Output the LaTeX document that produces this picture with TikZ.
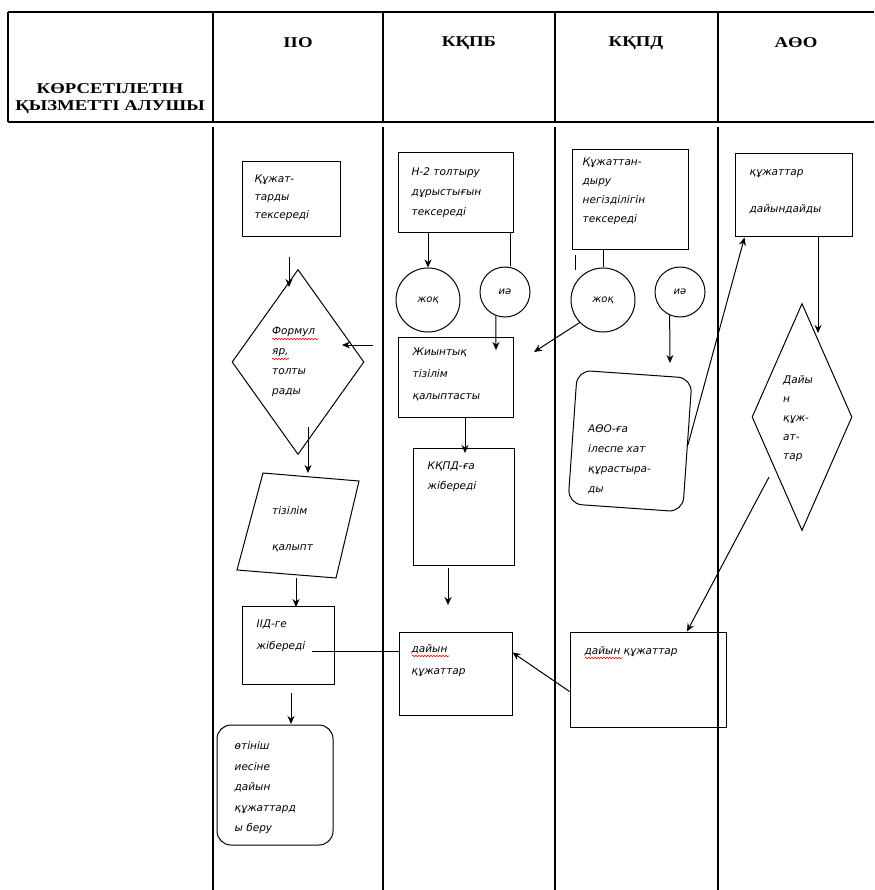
\documentclass[tikz,border=0pt]{standalone}
\usepackage{fontspec}
\setmainfont{Liberation Serif}
\newfontfamily\headfont{Liberation Serif}[FakeStretch=1.25]
\newfontfamily\bodyfont{DejaVu Sans}
\usetikzlibrary{positioning, shapes.geometric, arrows.meta, decorations.pathmorphing}

\begin{document}
\begin{tikzpicture}[x=1pt,y=-1pt,
                  head/.style={font=\headfont\bfseries\fontsize{15}{17}\selectfont,inner sep=0pt,align=center},
                  box/.style={rectangle,draw,line width=1pt,inner sep=0pt},
                  rbox/.style={box,rounded corners=14pt},
                  decision/.style={diamond,draw,line width=1pt,inner sep=0pt},
                  answer/.style={circle,draw,line width=1pt,inner sep=0pt,
                    font=\bodyfont\itshape\fontsize{10}{12}\selectfont},
                  txt/.style={font=\bodyfont\itshape\fontsize{10.5}{#1}\selectfont,align=left,inner sep=0pt},
                  txt/.default=20,
                  post/.style={->,>={Stealth[length=8pt,width=7pt]},line width=1pt},
                  lane/.style={line width=1.2pt},
                  spell/.style={red,line width=0.6pt,decorate,
                    decoration={snake,amplitude=0.8pt,segment length=3pt}}
                  ]
                  \useasboundingbox (0,0) rectangle (874,890);

                  % header of the table
                  \draw[lane] (8,12) -- (874,12);
                  \draw[lane] (8,122) -- (874,122);
                  \draw[lane] (8,12) -- (8,122);
                  \foreach \x in {213,383,555,718} {
                    \draw[lane] (\x,12) -- (\x,122);
                    \draw[lane] (\x,127) -- (\x,890);
                  }
                  \node[head] (h0) at (110,99) {КӨРСЕТІЛЕТІН\\ҚЫЗМЕТТІ АЛУШЫ};
                  \node[head] (h1) at (298,43) {ІІО};
                  \node[head] (h2) at (469,43) {КҚПБ};
                  \node[head] (h3) at (636,43) {КҚПД};
                  \node[head] (h4) at (796,43) {АӨО};

                  % lane 1
                  \node[box,minimum width=98pt,minimum height=75pt] (kuzh1) at (291,199.5) {};
                  \node[txt=18] (kuzh1t) [below right=13pt and 13pt of kuzh1.north west] {Құжат-\\тарды\\тексереді};
                  \node[decision,minimum width=132pt,minimum height=185pt] (form) at (298,362) {};
                  \node[txt,anchor=north west] (formt) at (272,327) {Формул\\яр,\\толты\\рады};
                  \node[txt=36,anchor=north west] (tiz) at (272,506) {тізілім\\қалыпт};
                  \draw[line width=1pt] (263,473) -- (359,481) -- (336,578) -- (237,570) -- cycle;
                  \node[box,minimum width=92pt,minimum height=78pt] (iid) at (288,645) {};
                  \node[txt=22] (iidt) [below right=14pt and 15pt of iid.north west] {ІІД-ге\\жібереді};
                  \node[rbox,minimum width=116pt,minimum height=120pt] (beru) at (275,785) {};
                  \node[txt=20.5] (berut) [below right=17pt and 18pt of beru.north west] {өтініш\\иесіне\\дайын\\құжаттард\\ы беру};

                  % lane 2
                  \node[box,minimum width=115pt,minimum height=80pt] (nform) at (455.5,193) {};
                  \node[txt] (nformt) [below right=15pt and 14pt of nform.north west] {Н-2 толтыру\\дұрыстығын\\тексереді};
                  \node[answer,minimum size=64pt] (zhoq1) at (428,300) {жоқ};
                  \node[answer,minimum size=50pt] (ia1) at (505,292) {иә};
                  \node[box,minimum width=115pt,minimum height=80pt] (zhiyn) at (455.5,377) {};
                  \node[txt=22] (zhiynt) [below right=11pt and 15pt of zhiyn.north west] {Жиынтық\\тізілім\\қалыптасты};
                  \node[box,minimum width=101pt,minimum height=117pt] (kkpd) at (463.5,506.5) {};
                  \node[txt] (kkpdt) [below right=14pt and 15pt of kkpd.north west] {КҚПД-ға\\жібереді};
                  \node[box,minimum width=113pt,minimum height=83pt] (dayyn1) at (455.5,673.5) {};
                  \node[txt=22] (dayyn1t) [below right=13pt and 13pt of dayyn1.north west] {дайын\\құжаттар};

                  % lane 3
                  \node[box,minimum width=116pt,minimum height=100pt] (kuzh2) at (630,200) {};
                  \node[txt=19] (kuzh2t) [below right=8pt and 11pt of kuzh2.north west] {Құжаттан-\\дыру\\негізділігін\\тексереді};
                  \node[answer,minimum size=64pt] (zhoq2) at (603,300) {жоқ};
                  \node[answer,minimum size=50pt] (ia2) at (680,292) {иә};
                  \node[rbox,minimum width=115pt,minimum height=134pt,rotate=-4] (hat) at (630,441) {};
                  \node[txt,anchor=north west] (hatt) at (588,425) {АӨО-ға\\ілеспе хат\\құрастыра-\\ды};
                  \node[box,minimum width=156pt,minimum height=95pt] (dayyn2) at (648,679.5) {};
                  \node[txt] (dayyn2t) [below right=15pt and 15pt of dayyn2.north west] {дайын құжаттар};

                  % lane 4
                  \node[box,minimum width=117pt,minimum height=83pt] (kuzh3) at (793.5,195.5) {};
                  \node[txt=37] (kuzh3t) [below right=16pt and 15pt of kuzh3.north west] {құжаттар\\дайындайды};
                  \node[decision,minimum width=100pt,minimum height=227pt] (rdy) at (802,417) {};
                  \node[txt=19,anchor=north west] (rdyt) at (783,375) {Дайы\\н\\құж-\\ат-\\тар};

                  % spelling marks
                  \draw[spell] (272,339) -- (318,339);
                  \draw[spell] (272,359) -- (289,359);
                  \draw[spell] (412,656) -- (449,656);
                  \draw[spell] (585,658) -- (622,658);

                  % free ends
                  \coordinate (a1s) at (289,257);
                  \coordinate (a1e) at (289,287);
                  \coordinate (a2s) at (373,345);
                  \coordinate (a2e) at (342,345);
                  \coordinate (a3s) at (308,427);
                  \coordinate (a3e) at (308,473);
                  \coordinate (a4s) at (296,578);
                  \coordinate (a4e) at (296,607);
                  \coordinate (a5s) at (291,693);
                  \coordinate (a5e) at (291,724);
                  \coordinate (iidl) at (312,651);
                  \coordinate (nfr) at (510,233);
                  \coordinate (ia1e) at (496,350);
                  \coordinate (zhe) at (465,453);
                  \coordinate (kks) at (448,568);
                  \coordinate (kke) at (448,605);
                  \coordinate (zh2e) at (534,352);
                  \coordinate (stubs) at (575,255);
                  \coordinate (stube) at (575,270);
                  \coordinate (ia2e) at (670,363);
                  \coordinate (rdye) at (818,333);
                  \coordinate (rdys) at (769,477);

                  % connectors
                  \draw[post] (a1s) -- (a1e);
                  \draw[post] (a2s) -- (a2e);
                  \draw[post] (a3s) -- (a3e);
                  \draw[post] (a4s) -- (a4e);
                  \draw[post] (a5s) -- (a5e);
                  \draw[line width=1pt] (iidl) -- (dayyn1.west |- iidl);
                  \draw[post] (nform.south -| zhoq1) -- (zhoq1.north);
                  \draw[line width=1pt] (nfr) -- (nfr |- ia1.north);
                  \draw[post] (ia1.249) -- (ia1e);
                  \draw[post] (zhiyn.south -| zhe) -- (zhe);
                  \draw[post] (kks) -- (kke);
                  \draw[post] ([yshift=-12pt]dayyn2.west) -- ([yshift=21pt]dayyn1.east);
                  \draw[line width=1pt] (kuzh2.south -| zhoq2) -- (zhoq2.north);
                  \draw[line width=1pt] (stubs) -- (stube);
                  \draw[post] (zhoq2.224) -- (zh2e);
                  \draw[post] (ia2.246) -- (ia2e);
                  \draw[post] (hat.east) -- ([xshift=10pt]kuzh3.south west);
                  \draw[post] (kuzh3.south -| rdye) -- (rdye);
                  \draw[post] (rdys) -- ([xshift=39pt]dayyn2.north);
                \end{tikzpicture}
\end{document}
